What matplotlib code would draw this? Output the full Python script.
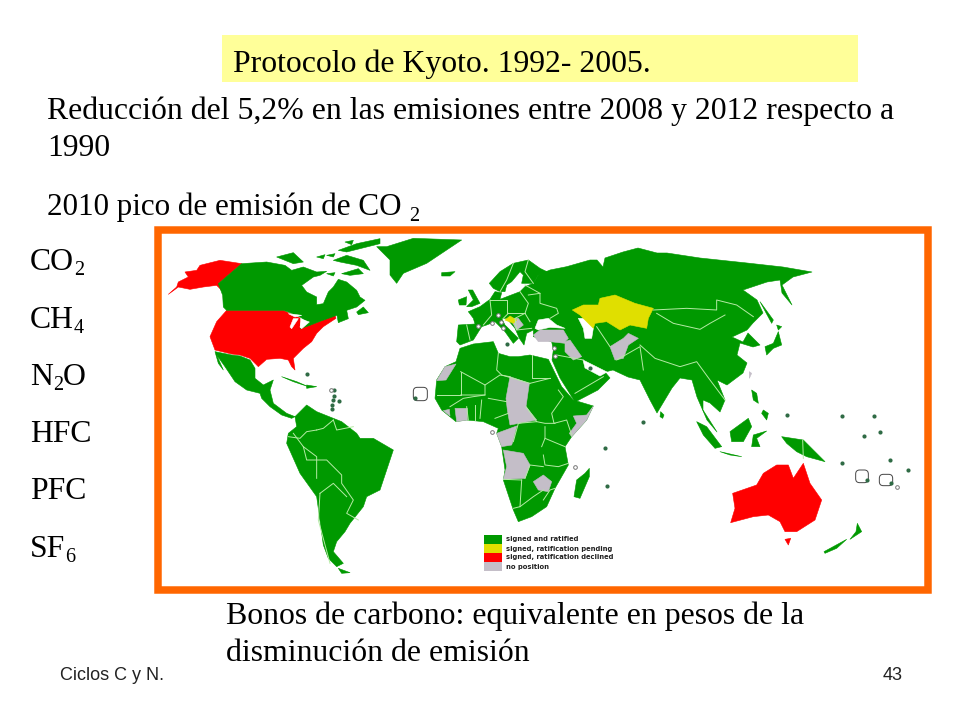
import matplotlib
matplotlib.use("Agg")
import matplotlib.pyplot as plt
from matplotlib.patches import Polygon, Rectangle, FancyBboxPatch

# ---- colours ----
GREEN, YELLOW, RED, GRAY = "#009900", "#E0DF00", "#FF0000", "#C4BEC8"
BORDER, DOT, ORANGE = "#B5EBA5", "#2F6B45", "#FF6600"

# ---- text content ----
title = "Protocolo de Kyoto. 1992- 2005."
body_1 = "Reducción del 5,2% en las emisiones entre 2008 y 2012 respecto a"
body_2 = "1990"
body_3 = "2010 pico de emisión de CO"
gases = [("CO", "2", ""), ("CH", "4", ""), ("N", "2", "O"), ("HFC", "", ""), ("PFC", "", ""), ("SF", "6", "")]
bonos = ["Bonos de carbono: equivalente en pesos de la", "disminución de emisión"]
legend_labels = ["signed and ratified", "signed, ratification pending",
                 "signed, ratification declined", "no position"]
legend_colors = [GREEN, YELLOW, RED, GRAY]

# ---- map outlines; each group is in the units of one crop ----
# N = North America crop
alaska = [(245,95),(175,155),(195,165),(200,190),(185,175),(170,160),(130,165),(90,172),(55,165),(25,187),(50,165),(55,150),(85,135),(75,120),(110,115),(120,100),(180,85)]
canada = [(245,95),(320,90),(375,100),(395,115),(430,105),(470,120),(500,118),(480,130),(460,135),(425,160),(440,180),(470,195),(470,218),(490,215),(505,180),(520,165),(535,142),(560,150),(590,175),(600,195),(615,205),(590,225),(560,235),(530,250),(525,252),(480,268),(450,280),(420,290),(445,270),(420,255),(385,240),(370,235),(200,235),(190,225),(188,190),(175,155)]
arctic_a = [(350,75),(400,62),(430,90),(400,95),(375,85)]
arctic_b = [(470,75),(495,68),(490,80)]
arctic_c = [(500,70),(525,65),(520,75)]
arctic_d = [(520,85),(560,70),(610,85),(630,115),(590,100),(540,90)]
arctic_e = [(500,125),(525,122),(520,132)]
arctic_f = [(545,125),(595,110),(610,125),(570,130)]
arctic_g = [(535,55),(590,35),(660,20),(660,35),(600,50),(560,60)]
arctic_h = [(555,30),(580,25),(575,38)]
newfoundland = [(590,240),(610,225),(625,242),(595,248)]
nova_scotia = [(530,245),(560,235),(565,260),(535,272)]
lake_superior = [(385,245),(425,250),(405,255)]
lake_michigan = [(400,260),(415,260),(395,290),(390,285)]
lake_huron = [(425,262),(448,270),(425,290),(420,285)]
# L = western-hemisphere crop
usa = [(200,241),(370,241),(390,251),(420,264),(420,296),(480,274),(525,255),(528,265),(490,290),(470,310),(455,335),(430,355),(400,385),(405,420),(395,410),(385,390),(360,385),(320,388),(295,410),(270,385),(240,375),(215,372),(165,360),(150,320),(170,275)]
mexico = [(165,365),(215,375),(240,378),(270,390),(285,415),(285,445),(310,465),(340,450),(330,480),(340,520),(380,550),(405,560),(395,565),(365,555),(330,530),(305,505),(300,490),(260,480),(225,455),(195,410),(170,375),(190,420),(175,400)]
cuba = [(365,440),(410,455),(445,470),(400,455)]
hispaniola = [(440,465),(470,470),(440,475)]
greenland = [(680,50),(760,25),(905,30),(860,60),(800,100),(730,130),(710,160),(690,135),(690,90),(650,50)]
iceland = [(845,128),(885,125),(870,138),(845,138)]
south_america = [(440,525),(470,545),(520,565),(545,575),(590,610),(600,625),(640,625),(700,660),(690,690),(670,750),(660,780),(620,800),(610,830),(570,880),(555,905),(530,935),(520,965),(550,1000),(530,1010),(505,985),(490,945),(470,800),(420,730),(380,640),(385,610),(410,590),(405,560)]
fuego = [(535,1015),(570,1028),(545,1030)]
# E = Europe crop
uk = [(55,120),(68,120),(90,160),(65,170),(50,170),(70,150)]
ireland = [(25,150),(50,140),(48,165),(28,165)]
scandinavia = [(118,100),(150,65),(190,40),(235,30),(270,55),(305,72),(265,75),(250,100),(215,100),(220,75),(210,65),(185,95),(170,105),(165,125),(150,125),(130,115)]
balkan = [(165,210),(180,198),(200,210),(190,220)]
serbia = [(180,205),(205,205),(220,225),(200,240),(190,222)]
turkey = [(250,255),(270,240),(340,240),(355,265),(345,275),(360,270),(395,320),(370,330),(345,305),(345,280),(300,275),(265,275)]
black_sea = [(255,235),(265,210),(295,205),(320,225),(345,235),(300,232),(265,240)]
caspian = [(385,205),(410,205),(430,235),(425,265),(405,265),(400,235)]
euro_west = [(55,185),(90,170),(120,148),(135,125),(155,128),(150,148),(210,125),(225,110),(250,100),(265,75),(300,60),(350,50),(420,30)]
euro_south = [(310,300),(305,275),(250,260),(250,240),(230,250),(222,285),(208,265),(195,235),(170,205),(155,205),(165,225),(205,265),(190,280),(165,245),(145,225),(135,215),(110,225),(95,230),(70,270),(30,285),(20,275),(25,225),(75,222),(70,205)]
# absolute picture pixels for the Asian coast
asia_coast = [(597,260),(603,267),(605,258),(623,252),(638,248),(657,253),(667,253),(700,258),(747,263),(783,267),(812,272),(793,277),(782,285),(792,305),(782,293),(780,280),(767,282),(743,290),(757,300),(763,313),(753,323),(747,330),(732,337),(743,342),(748,333),(760,345),(753,347),(740,343),(737,355),(747,363),(743,373),(727,385),(717,380),(725,400),(720,412),(710,403),(703,400),(703,410),(717,432),(707,420),(697,397),(692,380),(680,378),(672,388),(657,413),(650,400),(640,380),(628,377),(613,370),(605,372),(610,378),(598,390),(575,402),(560,378),(552,360)]
persian_gulf = [(583,360),(607,372),(600,376),(585,368)]
# F = Africa crop
africa = [(78,65),(90,25),(130,12),(190,5),(205,40),(240,50),(265,50),(300,45),(355,58),(395,140),(430,180),(490,198),(470,240),(425,290),(405,320),(415,375),(375,445),(350,500),(305,530),(265,545),(250,510),(220,420),(225,390),(215,320),(200,280),(205,265),(160,245),(110,240),(78,245),(35,210),(15,175),(20,120),(45,80)]
w_sahara = [(20,122),(45,80),(78,72),(48,120)]
chad = [(240,110),(298,130),(288,200),(320,240),(240,255),(232,210),(228,175)]
liberia = [(75,205),(112,205),(112,240),(80,245)]
sierra = [(40,212),(58,208),(60,228)]
gabon = [(200,280),(260,258),(250,300),(245,315),(215,320)]
angola = [(220,330),(280,340),(300,375),(285,415),(220,418),(230,380)]
zimbabwe = [(310,425),(340,405),(365,425),(355,455),(325,450)]
somalia = [(430,228),(470,225),(490,198),(470,240),(425,290),(418,280),(440,250)]
madagascar = [(478,385),(478,410),(450,475),(432,470),(440,420),(465,400)]
# R = eastern-hemisphere crop
kazakhstan = [(97,240),(130,225),(175,225),(180,205),(225,195),(285,220),(340,235),(325,265),(320,295),(270,285),(240,300),(200,275),(165,280),(160,295),(135,270),(120,255)]
afghanistan = [(210,350),(250,325),(265,310),(295,325),(265,345),(250,385),(225,390)]
taiwan = [(628,425),(635,430),(628,445)]
sri_lanka = [(362,545),(372,555),(368,565),(360,560)]
japan = [(675,350),(700,340),(715,305),(725,345),(700,355),(680,375)]
hokkaido = [(710,285),(725,290),(715,300)]
sakhalin = [(660,215),(700,270),(695,280)]
luzon = [(635,480),(650,490),(655,520),(640,510)]
mindanao = [(670,540),(685,550),(680,570),(665,550)]
sumatra = [(470,575),(500,590),(545,650),(525,655),(490,615)]
java = [(540,665),(605,680),(570,675)]
borneo = [(570,605),(625,565),(635,590),(610,635),(575,635)]
sulawesi = [(640,615),(680,603),(650,625),(660,650),(635,650)]
new_guinea = [(725,620),(790,630),(855,695),(800,680),(770,665),(740,640)]
australia = [(578,790),(650,765),(670,730),(710,705),(745,705),(760,745),(790,700),(810,760),(845,810),(825,870),(770,905),(735,905),(720,875),(685,855),(640,860),(572,878),(585,835)]
tasmania = [(735,928),(752,925),(745,945)]
nz_south = [(852,965),(920,928),(890,955),(855,970)]
nz_north = [(930,928),(965,905),(952,880),(948,905)]

border_sa = [[(400,610),(430,650),(470,680),(470,745)], [(470,600),(490,595),(520,570)], [(520,570),(530,600),(580,590)],
             [(430,650),(440,690),(500,690),(545,735),(545,760),(580,810),(560,850),(595,870)],
             [(480,790),(520,760),(560,800)], [(480,790),(475,870),(510,1000)], [(385,620),(420,625),(440,605),(470,600)]]
border_af = [[(92,95),(92,165),(20,165)], [(92,95),(165,135),(165,165),(92,165)], [(165,135),(210,105),(240,110)],
             [(205,40),(200,90),(215,105),(300,130)], [(305,45),(305,115),(360,115)], [(300,130),(360,115)],
             [(385,150),(400,170),(365,220),(372,250),(410,240),(425,285)], [(288,200),(320,245),(345,250),(375,250)],
             [(250,305),(265,250),(320,245)], [(335,320),(345,295),(345,260)], [(345,295),(405,320)],
             [(340,345),(345,375),(385,380),(415,370)], [(285,415),(300,375),(340,380)], [(275,420),(270,500),(250,505)],
             [(270,500),(310,470),(340,450)], [(220,418),(275,420)], [(110,200),(115,240)], [(135,195),(135,240)],
             [(155,180),(150,235)], [(175,175),(230,185)], [(195,235),(235,220)], [(60,200),(100,175),(130,170),(165,165)],
             [(340,480),(360,450),(375,445)]]
border_eu = [[(120,150),(125,195),(100,225)], [(120,150),(170,150),(170,190),(225,190)], [(210,125),(235,160),(225,190),(240,215)],
             [(235,135),(270,130),(270,160),(320,175),(325,190),(300,205)], [(225,105),(270,130)], [(175,190),(160,205)],
             [(50,225),(60,270)], [(245,235),(200,240),(195,205),(225,190)], [(190,40),(170,90),(150,125)], [(235,30),(225,65),(250,100)]]
border_as = [[(340,240),(440,235),(530,240),(530,210),(590,225),(640,260)], [(350,250),(400,280),(480,298),(510,280),(555,255)],
             [(300,345),(345,385),(420,410),(470,395),(510,450),(555,510)], [(50,375),(130,390)], [(170,290),(210,350)],
             [(230,390),(300,350),(310,420)], [(788,630),(790,685)], [(105,490),(190,440)]]

dots_right = [(309,576),(195,654),(200,768),(741,556),(905,558),(1003,558),(971,617),(1020,605),(1050,689),(1104,721),(905,698),(980,750),(1052,760),(150,415)]
dots_left = [(1040,343),(538,512),(523,480),(523,497),(518,510),(516,525),(515,537),(440,432),(766,505)]
open_dots_right = [(106,711),(1072,770),(43,355),(45,378)]
open_dots_left = [(995,605),(955,288),(1028,295),(1023,275),(995,280),(1013,255),(512,480)]
island_boxes_left = [(760,472,42,40)]
island_boxes_right = [(947,720,38,38),(1018,733,40,34)]


def shift(p, ox, oy):
    return [(ox + x / 3, oy + y / 3) for x, y in p]


def nam(p):
    return shift(p, 160, 232)


def lft(p):
    return shift(p, 160, 230)


def rgt(p):
    return shift(p, 540, 230)


def eur(p):
    return shift(p, 450, 250)


def afr(p):
    return shift(p, 430, 340)


fig = plt.figure(figsize=(9.6, 7.2), dpi=100, facecolor="white")
ax = fig.add_axes([0, 0, 1, 1])
ax.set_xlim(0, 960)
ax.set_ylim(720, 0)
ax.axis("off")

SERIF = "Liberation Serif"
SANS = "Liberation Sans"

ax.add_patch(Rectangle((222, 35), 636, 47, fc="#FFFF99", ec="none"))
ax.add_patch(Rectangle((157.5, 229.5), 770, 360, fc="white", ec=ORANGE, lw=5.4))


def fill(pts, color, z=2):
    ax.add_patch(Polygon(pts, closed=True, fc=color, ec=color, lw=0.4, zorder=z, joinstyle="round"))


eurasia = eur(euro_west) + asia_coast + eur(euro_south)

fill(nam(alaska), RED)
fill(lft(usa), RED)
for shape in [canada, arctic_a, arctic_b, arctic_c, arctic_d, arctic_e, arctic_f, arctic_g, arctic_h, newfoundland, nova_scotia]:
    fill(nam(shape), GREEN)
for shape in [lake_superior, lake_michigan, lake_huron]:
    fill(nam(shape), "white", 3)
for shape in [mexico, cuba, hispaniola, greenland, iceland, south_america, fuego]:
    fill(lft(shape), GREEN)
fill(afr(africa), GREEN)
fill(afr(madagascar), GREEN)
fill(eurasia, GREEN)
for shape in [uk, ireland, scandinavia]:
    fill(eur(shape), GREEN)
for shape in [sri_lanka, japan, hokkaido, sakhalin, luzon, mindanao, sumatra, java, borneo, sulawesi, new_guinea, nz_south, nz_north]:
    fill(rgt(shape), GREEN)
for shape in [australia, tasmania]:
    fill(rgt(shape), RED)
for shape in [black_sea, caspian]:
    fill(eur(shape), "white", 3)
fill(persian_gulf, "white", 3)
for shape in [w_sahara, chad, liberia, sierra, gabon, angola, zimbabwe, somalia]:
    fill(afr(shape), GRAY, 4)
for shape in [turkey, serbia]:
    fill(eur(shape), GRAY, 4)
for shape in [afghanistan, taiwan]:
    fill(rgt(shape), GRAY, 4)
fill(rgt(kazakhstan), YELLOW, 4)
fill(eur(balkan), YELLOW, 4)

for conv, group in [(lft, border_sa), (afr, border_af), (eur, border_eu), (rgt, border_as)]:
    for line in group:
        xs, ys = zip(*conv(line))
        ax.plot(xs, ys, color=BORDER, lw=0.7, zorder=5)

for conv, dots in [(lft, dots_left), (rgt, dots_right)]:
    xs, ys = zip(*conv(dots))
    ax.scatter(xs, ys, s=9, color=DOT, lw=0, zorder=7)
for conv, dots in [(lft, open_dots_left), (rgt, open_dots_right)]:
    xs, ys = zip(*conv(dots))
    ax.scatter(xs, ys, s=7, facecolor="white", edgecolor="#777777", lw=0.7, zorder=7)
for ox, boxes in [(160, island_boxes_left), (540, island_boxes_right)]:
    for x, y, w, h in boxes:
        ax.add_patch(FancyBboxPatch((ox + x / 3, 230 + y / 3), w / 3, h / 3, boxstyle="round,pad=0,rounding_size=4",
                                    fc="white", ec="#444444", lw=0.7, zorder=6))

# legend
for i, (lab, col) in enumerate(zip(legend_labels, legend_colors)):
    y = 535 + 9 * i
    ax.add_patch(Rectangle((484, y), 18, 9, fc=col, ec="none", zorder=6))
    ax.text(506, y + 4.5, lab, fontsize=4.9, family="DejaVu Sans", fontweight="bold", color="#222222",
            va="center", ha="left", zorder=7)

# slide text
FS = 22.9
SUB = 14.5
ax.text(233, 72, title, family=SERIF, fontsize=FS, va="baseline", color="black", zorder=8)
ax.text(47, 119, body_1, family=SERIF, fontsize=FS, va="baseline", zorder=8)
ax.text(47, 156, body_2, family=SERIF, fontsize=FS, va="baseline", zorder=8)
ax.text(47, 215, body_3, family=SERIF, fontsize=22.4, va="baseline", zorder=8)
ax.text(409, 221, "2", family=SERIF, fontsize=SUB, va="baseline", zorder=8)

gas_y = [270, 328, 385, 442, 499, 557]
for (a, sub, tail), y in zip(gases, gas_y):
    t = ax.text(30, y, a, family=SERIF, fontsize=FS, va="baseline", zorder=8)
    fig.canvas.draw()
    x = t.get_window_extent().x1
    if sub:
        s = ax.text(x, y + 5, sub, family=SERIF, fontsize=SUB, va="baseline", zorder=8)
        x = s.get_window_extent().x1
    if tail:
        ax.text(x, y, tail, family=SERIF, fontsize=FS, va="baseline", zorder=8)

ax.text(226, 624, bonos[0], family=SERIF, fontsize=FS, va="baseline", zorder=8)
ax.text(226, 661, bonos[1], family=SERIF, fontsize=FS, va="baseline", zorder=8)
ax.text(60, 680, "Ciclos C y N.", family=SANS, fontsize=13, va="baseline", color="#222222", zorder=8)
ax.text(903, 680, "43", family=SANS, fontsize=13, va="baseline", ha="right", color="#222222", zorder=8)

fig.savefig("out.png", dpi=100)
